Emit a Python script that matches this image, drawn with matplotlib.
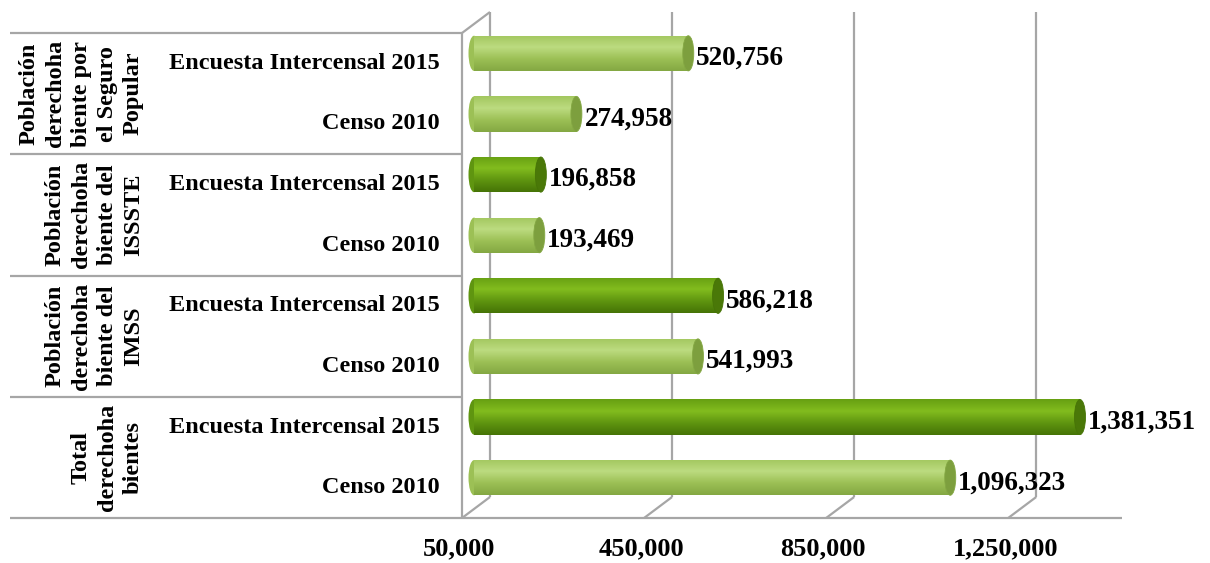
import numpy as np
import matplotlib
matplotlib.use('Agg')
import matplotlib.pyplot as plt
from matplotlib.patches import Ellipse
from matplotlib.colors import LinearSegmentedColormap

plt.rcParams['font.family'] = ['Liberation Serif', 'DejaVu Serif']
plt.rcParams['font.weight'] = 'bold'

# data, bottom row first
groups = ['Total\nderechoha\nbientes',
          'Población\nderechoha\nbiente del\nIMSS',
          'Población\nderechoha\nbiente del\nISSSTE',
          'Población\nderechoha\nbiente por\nel Seguro\nPopular']
sub_labels = ['Censo 2010', 'Encuesta Intercensal 2015'] * 4
values = [1096323, 1381351, 541993, 586218, 193469, 196858, 274958, 520756]
x_ticks = [50000, 450000, 850000, 1250000]
tick_labels = ['50,000', '450,000', '850,000', '1,250,000']

# styling per bar (light / dark green)
shade = ['light', 'dark', 'light', 'dark', 'light', 'dark', 'light', 'light']
palette = {
    'light': (['#a3c75f', '#bcdb80', '#9cc055', '#84a843'], '#7d9f3e'),
    'dark': (['#67a012', '#82bc1e', '#5f9510', '#467406'], '#4a7808'),
}
gray = '#a6a6a6'

W, H = 1210, 563
fig = plt.figure(figsize=(W / 100, H / 100), dpi=100)
# front box of the 3D plot area, in pixels
left_px, right_px, top_px, bot_px = 462, 1122, 33, 518
ax = fig.add_axes([left_px / W, 1 - bot_px / H,
                   (right_px - left_px) / W, (bot_px - top_px) / H])
xmin, xmax = 50000, 1500000
ymin, ymax = -0.5, 7.5
ppx = (right_px - left_px) / (xmax - xmin)   # pixels per data unit
ppy = (bot_px - top_px) / (ymax - ymin)

def dx(px):
    return px / ppx

def dy(px):
    return px / ppy

DX, DY = dx(28), dy(21)          # depth of back wall
MX, MY = dx(12), dy(10)          # depth of bars
line_kw = dict(color=gray, lw=1.6, clip_on=False, solid_capstyle='butt')

# back wall gridlines and floor
for t in x_ticks:
    ax.plot([t + DX, t + DX], [ymin + DY, ymax + DY], **line_kw)
    ax.plot([t, t + DX], [ymin, ymin + DY], **line_kw)
ax.plot([xmin, xmax], [ymin, ymin], **line_kw)
# left wall
ax.plot([xmin, xmin], [ymin, ymax], **line_kw)
ax.plot([xmin, xmin + DX], [ymax, ymax + DY], **line_kw)

# category table on the left
x_table = xmin - dx(left_px - 10)
for b in [ymin, 1.5, 3.5, 5.5, ymax]:
    ax.plot([x_table, xmin], [b, b], **line_kw)

rows = np.arange(len(values))
for r, lab in zip(rows, sub_labels):
    ax.text(xmin - dx(22), r, lab, ha='right', va='center', fontsize=17.5,
            fontweight='bold')
for g, lab in enumerate(groups):
    ax.text(xmin - dx(left_px - 144), 2 * g + 0.5, lab, rotation=90,
            ha='right', va='center', multialignment='center', fontsize=17.5,
            fontweight='bold', linespacing=1.32)

# cylinder bars
bh = 0.58
cap_w = dx(11)
for r, v, s in zip(rows, values, shade):
    cols, cap = palette[s]
    cmap = LinearSegmentedColormap.from_list(s, cols)
    x0, x1 = xmin + MX, v + MX
    yc = r + MY
    ax.add_patch(Ellipse((x0, yc), cap_w, bh, facecolor=cols[2],
                         edgecolor='none', zorder=2))
    bar = ax.barh(yc, x1 - x0, left=x0, height=bh, color='none', zorder=3)[0]
    img = ax.imshow(np.linspace(0, 1, 64).reshape(-1, 1), cmap=cmap,
                    extent=[x0, x1, yc - bh / 2, yc + bh / 2],
                    aspect='auto', origin='upper', zorder=3)
    img.set_clip_path(bar)
    ax.add_patch(Ellipse((x1, yc), cap_w, bh, facecolor=cap,
                         edgecolor=cols[3], lw=0.6, zorder=4))
    ax.text(x1 + dx(8), yc - dy(5), f'{v:,}', ha='left', va='center',
            fontsize=19.5, fontweight='bold', zorder=5)

for t, lab in zip(x_ticks, tick_labels):
    ax.text(t - dx(3), ymin - dy(31), lab, ha='center', va='center',
            fontsize=19, fontweight='bold')

ax.set_xlim(xmin, xmax)
ax.set_ylim(ymin, ymax)
ax.axis('off')

fig.savefig('out.png', dpi=100)
